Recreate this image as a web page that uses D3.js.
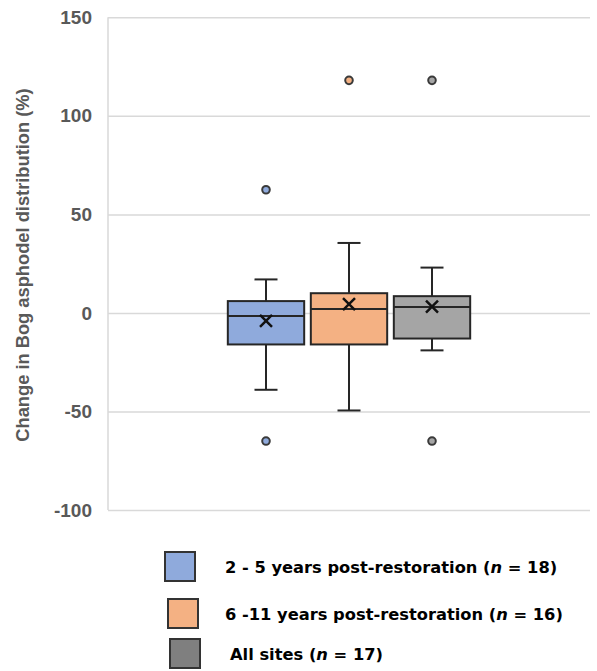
<!DOCTYPE html>
<html>
<head>
  <meta charset="utf-8">
  <style>
    body {
      margin: 0;
      background: #fff;
      font-family: "Liberation Sans", Arial, sans-serif;
    }
    .y.axis .domain { display: none; }
    .y.axis .tick line { stroke: #d9d9d9; stroke-width: 1.5; }
    .y.axis .tick text { fill: #595959; font-size: 19px; font-weight: bold; }
    .box { stroke: #262626; stroke-width: 2; }
    .whisker { stroke: #262626; stroke-width: 2; }
    .legend text { font-family: "DejaVu Sans", sans-serif; font-size: 16.3px; font-weight: bold; fill: #000; }
  </style>
</head>
<body>
  <script src="https://d3js.org/d3.v7.min.js"></script>
  <script>
    var groups = ["2 - 5 years", "6 - 11 years", "All sites"];
    var colors = ["#8faadc", "#f4b183", "#a5a5a5"];
    var legendColors = ["#8faadc", "#f4b183", "#7f7f7f"];

    var whiskerLow = [-39, -49.5, -19];
    var q1 = [-16, -16, -13];
    var median = [-1.5, 2, 3];
    var q3 = [6, 10, 8.5];
    var whiskerHigh = [17, 35.5, 23];
    var means = [-4, 4.5, 3.2];
    var outliers = [[62.5, -65], [118], [118, -65]];

    var yTicks = [-100, -50, 0, 50, 100, 150];
    var legendLabels = [
      ["2 - 5 years post-restoration (", "n", " = 18)"],
      ["6 -11 years post-restoration (", "n", " = 16)"],
      ["All sites (", "n", " = 17)"]
    ];

    var width = 597, height = 671;
    var svg = d3.select("body").append("svg")
        .attr("width", width)
        .attr("height", height);

    var left = 108, right = 590;

    var y = d3.scaleLinear()
      .domain([-100, 150])
      .range([510, 17.3]);

    var x = d3.scaleBand()
      .domain(groups)
      .range([224.5, 473.5])
      .paddingInner(0.08)
      .paddingOuter(0.04);

    var y_axis = d3.axisLeft(y)
      .tickValues(yTicks)
      .tickFormat(function(d){ return String(d); })
      .tickSize(-(right - left))
      .tickPadding(16);

    svg.append("g")
        .attr("class", "y axis")
        .attr("transform", "translate(" + left + ",0)")
        .call(y_axis);

    // left frame line
    svg.append("line")
        .attr("x1", left).attr("x2", left)
        .attr("y1", y(150)).attr("y2", y(-100))
        .attr("stroke", "#d9d9d9").attr("stroke-width", 1.5);

    svg.append("text")
        .attr("transform", "translate(29,265) rotate(-90)")
        .attr("text-anchor", "middle")
        .attr("fill", "#595959")
        .attr("font-size", "18.3px")
        .attr("font-weight", "bold")
        .text("Change in Bog asphodel distribution (%)");

    var capW = 23;

    groups.forEach(function(g, i){
      var x0 = x(g), bw = x.bandwidth(), cx = x0 + bw / 2;
      var gg = svg.append("g");

      // whiskers
      gg.append("line").attr("class", "whisker")
        .attr("x1", cx).attr("x2", cx)
        .attr("y1", y(whiskerHigh[i])).attr("y2", y(q3[i]));
      gg.append("line").attr("class", "whisker")
        .attr("x1", cx).attr("x2", cx)
        .attr("y1", y(q1[i])).attr("y2", y(whiskerLow[i]));
      gg.append("line").attr("class", "whisker")
        .attr("x1", cx - capW / 2).attr("x2", cx + capW / 2)
        .attr("y1", y(whiskerHigh[i])).attr("y2", y(whiskerHigh[i]));
      gg.append("line").attr("class", "whisker")
        .attr("x1", cx - capW / 2).attr("x2", cx + capW / 2)
        .attr("y1", y(whiskerLow[i])).attr("y2", y(whiskerLow[i]));

      // box
      gg.append("rect").attr("class", "box")
        .attr("x", x0).attr("width", bw)
        .attr("y", y(q3[i])).attr("height", y(q1[i]) - y(q3[i]))
        .attr("fill", colors[i]);

      gg.append("line").attr("class", "whisker")
        .attr("x1", x0).attr("x2", x0 + bw)
        .attr("y1", y(median[i])).attr("y2", y(median[i]));

      // mean cross
      var my = y(means[i]), s = 6;
      gg.append("path")
        .attr("d", "M" + (cx - s) + "," + (my - s) + "L" + (cx + s) + "," + (my + s) +
                   "M" + (cx - s) + "," + (my + s) + "L" + (cx + s) + "," + (my - s))
        .attr("stroke", "#111").attr("stroke-width", 2.5).attr("fill", "none");

      // outliers
      gg.selectAll(".outlier")
        .data(outliers[i])
        .enter().append("circle")
          .attr("class", "outlier")
          .attr("cx", cx)
          .attr("cy", function(d){ return y(d); })
          .attr("r", 3.8)
          .attr("fill", colors[i])
          .attr("stroke", "#3a3a3a")
          .attr("stroke-width", 2);
    });

    // legend
    var legendY = [552, 599, 639];
    var legendX = [165, 168, 170];
    var textX = [225, 225, 230];

    var legend = svg.append("g").attr("class", "legend");
    legendLabels.forEach(function(lab, i){
      legend.append("rect")
        .attr("x", legendX[i]).attr("y", legendY[i])
        .attr("width", 30).attr("height", 29)
        .attr("fill", legendColors[i])
        .attr("stroke", "#333").attr("stroke-width", 2);
      var t = legend.append("text")
        .attr("x", textX[i]).attr("y", legendY[i] + 15)
        .attr("dy", "0.35em");
      t.append("tspan").text(lab[0]);
      t.append("tspan").attr("font-style", "italic").text(lab[1]);
      t.append("tspan").text(lab[2]);
    });
  </script>
</body>
</html>
